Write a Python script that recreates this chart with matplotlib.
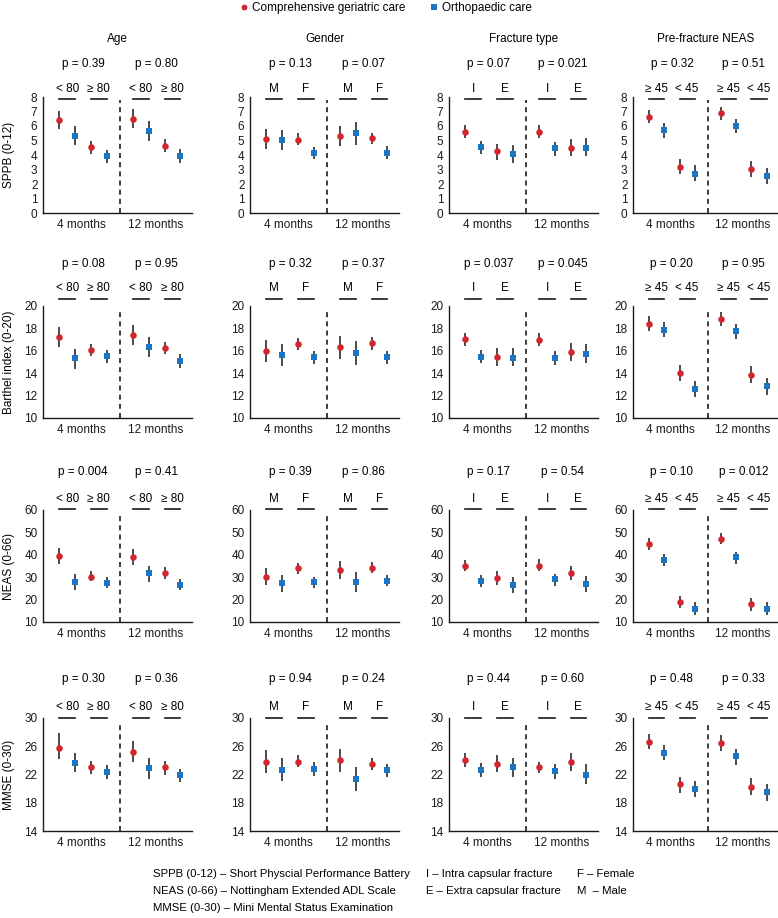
import numpy as np
import matplotlib
matplotlib.use("Agg")
import matplotlib.pyplot as plt
from matplotlib.lines import Line2D
from matplotlib.transforms import blended_transform_factory

plt.rcParams['font.family'] = ['Liberation Sans', 'DejaVu Sans']

# ---------------------------------------------------------------------------
# DATA (mean, lower and upper CI) - order in each list:
# 4m grp1 CGC, 4m grp1 OC, 4m grp2 CGC, 4m grp2 OC, 12m grp1 CGC, 12m grp1 OC, 12m grp2 CGC, 12m grp2 OC
# one inner list per subgroup factor (Age, Gender, Fracture type, Pre-fracture NEAS)
# ---------------------------------------------------------------------------
factors = ["Age", "Gender", "Fracture type", "Pre-fracture NEAS"]
sub_labels = [["< 80", "\u2265 80"], ["M", "F"], ["I", "E"], ["\u2265 45", "< 45"]]
outcomes = ["SPPB (0-12)", "Barthel index (0-20)", "NEAS (0-66)", "MMSE (0-30)"]
months = ["4 months", "12 months"]
arms = ["Comprehensive geriatric care", "Orthopaedic care"]

p_values = [
    [["0.39", "0.80"], ["0.13", "0.07"], ["0.07", "0.021"], ["0.32", "0.51"]],
    [["0.08", "0.95"], ["0.32", "0.37"], ["0.037", "0.045"], ["0.20", "0.95"]],
    [["0.004", "0.41"], ["0.39", "0.86"], ["0.17", "0.54"], ["0.10", "0.012"]],
    [["0.30", "0.36"], ["0.94", "0.24"], ["0.44", "0.60"], ["0.48", "0.33"]],
]

sppb_mean = [[6.4, 5.33, 4.55, 3.93, 6.51, 5.65, 4.64, 3.95],
             [5.1, 5.03, 5.06, 4.15, 5.3, 5.5, 5.15, 4.15],
             [5.6, 4.55, 4.27, 4.1, 5.6, 4.48, 4.5, 4.5],
             [6.63, 5.7, 3.2, 2.72, 6.9, 6.03, 3.04, 2.58]]
sppb_lo = [[5.76, 4.7, 4.1, 3.43, 5.83, 4.98, 4.18, 3.43],
           [4.4, 4.33, 4.67, 3.75, 4.62, 4.72, 4.75, 3.75],
           [5.2, 4.1, 3.66, 3.47, 5.2, 3.95, 3.9, 3.9],
           [6.2, 5.2, 2.7, 2.2, 6.4, 5.5, 2.5, 2.0]]
sppb_hi = [[7.04, 6.0, 4.98, 4.34, 7.2, 6.35, 5.07, 4.41],
           [5.8, 5.75, 5.5, 4.55, 6.0, 6.3, 5.55, 4.6],
           [6.1, 5.0, 4.78, 4.66, 6.1, 4.9, 5.07, 5.15],
           [7.1, 6.2, 3.72, 3.3, 7.3, 6.5, 3.57, 3.13]]

barthel_mean = [[17.26, 15.33, 16.1, 15.54, 17.4, 16.34, 16.25, 15.12],
                [15.95, 15.6, 16.58, 15.42, 16.3, 15.8, 16.67, 15.42],
                [17.05, 15.48, 15.42, 15.4, 17.0, 15.36, 15.9, 15.75],
                [18.42, 17.9, 14.05, 12.6, 18.84, 17.74, 13.87, 12.83]]
barthel_lo = [[16.34, 14.4, 15.5, 14.94, 16.5, 15.45, 15.7, 14.5],
              [15.0, 14.6, 16.04, 14.85, 15.3, 14.76, 16.1, 14.8],
              [16.43, 14.9, 14.64, 14.6, 16.4, 14.73, 15.1, 14.9],
              [17.8, 17.23, 13.33, 11.88, 18.18, 17.08, 13.13, 12.08]]
barthel_hi = [[18.1, 16.2, 16.64, 16.1, 18.3, 17.23, 16.8, 15.74],
              [16.93, 16.64, 17.14, 15.98, 17.3, 16.87, 17.23, 15.98],
              [17.6, 16.07, 16.22, 16.22, 17.6, 15.98, 16.67, 16.58],
              [19.1, 18.57, 14.73, 13.27, 19.46, 18.42, 14.6, 13.6]]

neas_mean = [[39.5, 27.65, 30.3, 27.4, 39.2, 31.66, 31.8, 26.6],
             [30.3, 27.4, 33.9, 27.65, 33.4, 27.95, 34.3, 28.4],
             [35.2, 28.25, 29.6, 26.3, 35.2, 29.0, 31.8, 27.1],
             [45.0, 37.75, 18.9, 15.9, 47.2, 38.8, 18.2, 16.0]]
neas_lo = [[35.8, 24.1, 28.1, 25.0, 35.4, 27.8, 29.3, 24.1],
           [26.6, 23.2, 31.5, 25.1, 29.3, 23.5, 31.8, 25.9],
           [32.55, 25.7, 26.5, 22.9, 32.55, 26.2, 28.55, 23.6],
           [42.35, 35.1, 16.2, 12.97, 44.7, 35.8, 15.0, 13.0]]
neas_hi = [[43.1, 31.5, 32.7, 29.9, 42.8, 35.1, 34.5, 29.1],
           [34.3, 31.1, 36.3, 29.9, 37.3, 32.1, 36.7, 30.8],
           [37.7, 30.8, 32.55, 30.0, 38.0, 31.4, 35.1, 30.6],
           [47.7, 40.3, 21.7, 18.75, 49.8, 41.3, 20.7, 19.05]]

mmse_mean = [[25.7, 23.65, 23.0, 22.3, 25.15, 22.9, 23.0, 21.9],
             [23.84, 22.7, 23.84, 22.84, 24.07, 21.42, 23.55, 22.6],
             [24.07, 22.65, 23.55, 23.0, 23.0, 22.46, 23.84, 22.0],
             [26.64, 25.1, 20.6, 19.95, 26.5, 24.55, 20.27, 19.5]]
mmse_lo = [[24.2, 22.3, 22.1, 21.4, 23.7, 21.4, 22.0, 20.95],
           [22.2, 21.14, 23.0, 21.85, 22.4, 19.7, 22.65, 21.7],
           [23.1, 21.6, 22.3, 21.6, 22.2, 21.4, 22.56, 20.6],
           [25.6, 24.07, 19.4, 18.8, 25.36, 23.4, 19.1, 18.27]]
mmse_hi = [[27.9, 25.1, 23.9, 23.3, 26.7, 24.4, 23.9, 22.8],
           [25.4, 24.27, 24.7, 23.7, 25.6, 23.1, 24.4, 23.45],
           [25.0, 23.6, 24.8, 24.3, 23.75, 23.45, 25.0, 23.45],
           [27.7, 26.2, 21.7, 21.14, 27.6, 25.65, 21.45, 20.7]]

row_data = [(sppb_mean, sppb_lo, sppb_hi),
            (barthel_mean, barthel_lo, barthel_hi),
            (neas_mean, neas_lo, neas_hi),
            (mmse_mean, mmse_lo, mmse_hi)]
y_ticks = [np.arange(0, 9, 1), np.arange(10, 21, 2), np.arange(10, 61, 10), np.arange(14, 31, 4)]

# ---------------------------------------------------------------------------
W, H = 778, 918
RED = "#d3252d"
BLUE = "#1c74c4"
FS = 8.2

xpos = np.array([0, 1, 2, 3, 4.7, 5.7, 6.7, 7.7])
x_split = 3.85
xlims = (-1.05, 8.45)

col_left = [43, 250, 449, 633]
col_width = [149, 149, 149, 145]
row_top = [97, 306, 510, 718]
row_bot = [213, 418, 622, 831]
line_y = [99, 299, 509, 718]
p_y = [64, 264, 472, 679]
title_y = 39

fig = plt.figure(figsize=(W / 100, H / 100), dpi=100)

for r in range(4):
    means, lows, highs = row_data[r]
    for c in range(4):
        ax = fig.add_axes([col_left[c] / W, 1 - row_bot[r] / H,
                           col_width[c] / W, (row_bot[r] - row_top[r]) / H])
        m = np.array(means[c])
        lo = m - np.array(lows[c])
        hi = np.array(highs[c]) - m
        for k, (col, mk, ms) in enumerate([(RED, "o", 4.7), (BLUE, "s", 4.9)]):
            idx = np.arange(k, 8, 2)
            ax.errorbar(xpos[idx], m[idx], yerr=[lo[idx], hi[idx]], fmt=mk, color=col,
                        ms=ms, mew=0, ecolor="#1a1a1a", elinewidth=1.1,
                        capsize=2.0, capthick=1.1, zorder=3)
        ax.axvline(x_split, ymin=0, ymax=0.97, color="#1a1a1a", lw=1.2,
                   linestyle=(0, (3, 2.5)))
        ax.set_xlim(*xlims)
        ax.set_ylim(y_ticks[r][0], y_ticks[r][-1])
        ax.set_yticks(y_ticks[r])
        ax.set_xticks([(xlims[0] + x_split) / 2, (x_split + xlims[1]) / 2])
        ax.set_xticklabels(months)
        ax.tick_params(length=0, labelsize=FS + 0.3, colors="#1a1a1a", pad=4)
        for s in ["top", "right"]:
            ax.spines[s].set_visible(False)
        for s in ["left", "bottom"]:
            ax.spines[s].set_color("#1a1a1a")
            ax.spines[s].set_linewidth(1.0)

        tr = blended_transform_factory(ax.transData, fig.transFigure)
        for g in range(2):
            base = 0 if g == 0 else 4
            grp_center = (xpos[base] + xpos[base + 3]) / 2
            fig.text(grp_center, 1 - p_y[r] / H, "p = " + p_values[r][c][g],
                     transform=tr, ha="center", va="center", fontsize=FS + 0.3)
            for s in range(2):
                x0, x1 = xpos[base + 2 * s], xpos[base + 2 * s + 1]
                ax.plot([x0, x1], [1 - line_y[r] / H] * 2, transform=tr,
                        color="#1a1a1a", lw=1.2, clip_on=False)
                fig.text((x0 + x1) / 2, 1 - (line_y[r] - 10.5) / H, sub_labels[c][s],
                         transform=tr, ha="center", va="center", fontsize=FS + 0.3)
        if r == 0:
            fig.text((col_left[c] + col_width[c] / 2) / W, 1 - title_y / H, factors[c],
                     ha="center", va="center", fontsize=FS + 0.3)
        if c == 0:
            fig.text(9 / W, 1 - (row_top[r] + row_bot[r]) / 2 / H, outcomes[r],
                     rotation=90, ha="center", va="center", fontsize=FS + 0.3)

# legend
handles = [Line2D([], [], ls="none", marker="o", color=RED, ms=4.2, mew=0),
           Line2D([], [], ls="none", marker="s", color=BLUE, ms=4.0, mew=0)]
fig.legend(handles, arms, loc="center", bbox_to_anchor=(386 / W, 1 - 8 / H), ncol=2,
           frameon=False, fontsize=FS + 0.3, handlelength=0.6, handletextpad=0.4,
           columnspacing=2.1, borderpad=0)

# footnotes
foot_cols = [(153, ["SPPB (0-12) \u2013 Short Physcial Performance Battery",
                    "NEAS (0-66) \u2013 Nottingham Extended ADL Scale",
                    "MMSE (0-30) \u2013 Mini Mental Status Examination"]),
             (426, ["I \u2013 Intra capsular fracture",
                    "E \u2013 Extra capsular fracture"]),
             (577, ["F \u2013 Female", "M  \u2013 Male"])]
foot_y = [874, 891, 908]
for x, lines in foot_cols:
    for i, t in enumerate(lines):
        fig.text(x / W, 1 - foot_y[i] / H, t, ha="left", va="center", fontsize=FS)

fig.savefig("out.png", dpi=100)
